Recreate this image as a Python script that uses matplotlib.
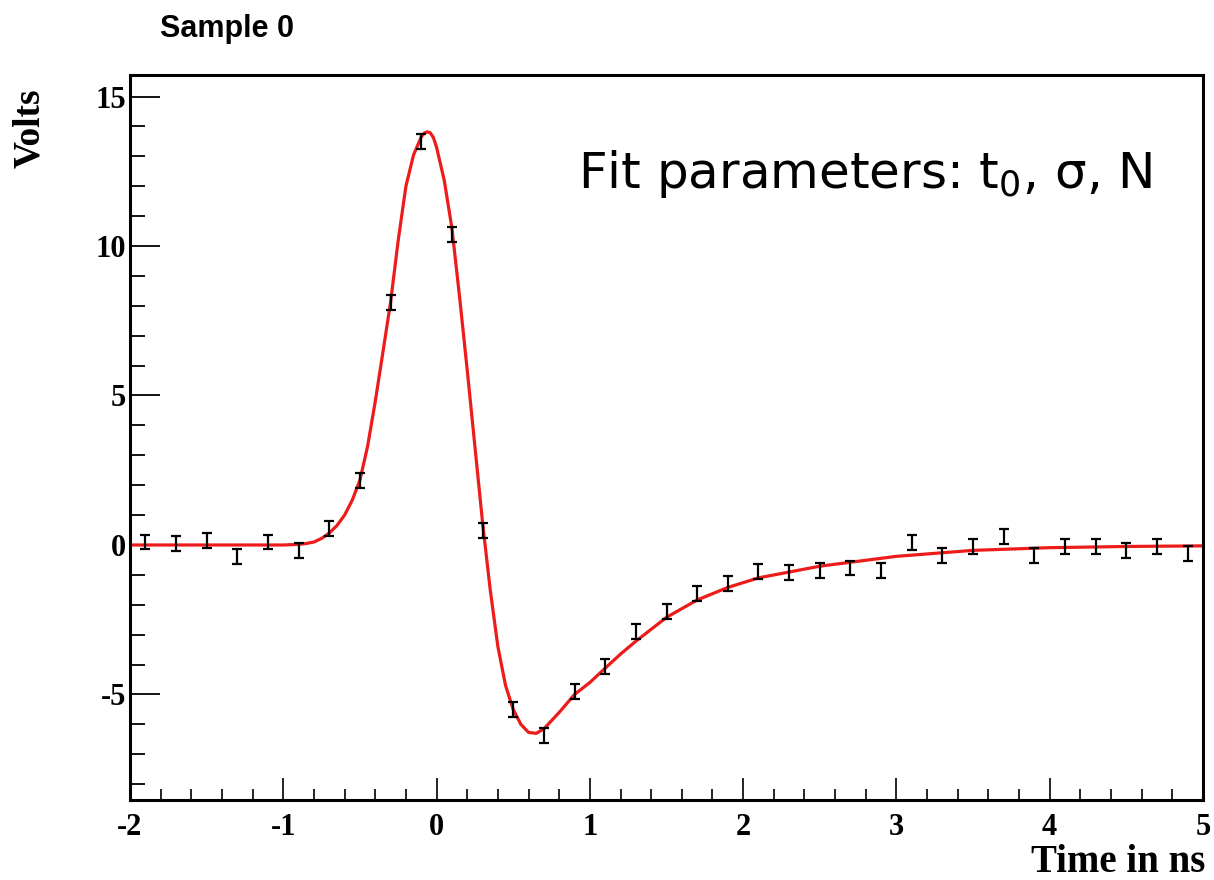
import matplotlib
matplotlib.use("Agg")
import matplotlib.pyplot as plt
from matplotlib.ticker import MultipleLocator

plt.rcParams['axes.unicode_minus'] = False
plt.rcParams['mathtext.fontset'] = 'custom'
plt.rcParams['mathtext.rm'] = 'DejaVu Sans'

# sampled pulse (time in ns, amplitude in volts)
t_data = [-1.9, -1.7, -1.5, -1.3, -1.1, -0.9, -0.7, -0.5, -0.3, -0.1,
          0.1, 0.3, 0.5, 0.7, 0.9, 1.1, 1.3, 1.5, 1.7, 1.9,
          2.1, 2.3, 2.5, 2.7, 2.9, 3.1, 3.3, 3.5, 3.7, 3.9,
          4.1, 4.3, 4.5, 4.7, 4.9]
v_data = [0.1, 0.05, 0.15, -0.37, 0.1, -0.17, 0.56, 2.15, 8.1, 13.5,
          10.4, 0.5, -5.5, -6.38, -4.9, -4.07, -2.9, -2.23, -1.62, -1.3,
          -0.88, -0.93, -0.84, -0.77, -0.84, 0.07, -0.36, -0.04, 0.28, -0.36,
          -0.06, -0.06, -0.18, -0.04, -0.27]
v_err = [0.25] * len(t_data)

# fitted pulse shape
t_fit = [-2.0, -1.5, -1.0, -0.9, -0.85, -0.8, -0.75, -0.7, -0.65, -0.6,
         -0.55, -0.5, -0.45, -0.4, -0.35, -0.3, -0.25, -0.2, -0.15, -0.1,
         -0.08, -0.06, -0.04, -0.02, 0.0, 0.05, 0.1, 0.15, 0.2, 0.25,
         0.3, 0.35, 0.4, 0.45, 0.5, 0.55, 0.6, 0.65, 0.7, 0.8,
         0.9, 1.0, 1.1, 1.2, 1.3, 1.5, 1.7, 1.9, 2.1, 2.5,
         3.0, 3.5, 4.0, 4.5, 5.0]
v_fit = [0.0, 0.0, 0.0, 0.02, 0.05, 0.1, 0.22, 0.4, 0.65, 1.0,
         1.5, 2.17, 3.3, 4.8, 6.45, 8.12, 10.2, 12.0, 13.05, 13.65,
         13.78, 13.82, 13.78, 13.62, 13.3, 12.2, 10.6, 8.3, 5.85, 3.3,
         0.75, -1.5, -3.4, -4.7, -5.5, -6.0, -6.27, -6.3, -6.15, -5.6,
         -5.0, -4.6, -4.12, -3.65, -3.22, -2.42, -1.84, -1.42, -1.1, -0.71,
         -0.38, -0.18, -0.09, -0.05, -0.03]

fig = plt.figure(figsize=(12.14, 8.8), dpi=100)
ax = fig.add_axes([130 / 1214, 80 / 880, 1073 / 1214, 725 / 880])

ax.plot(t_fit, v_fit, color='#ee1b1b', lw=2.3, zorder=2)
ax.errorbar(t_data, v_data, yerr=v_err, fmt='none', ecolor='black',
            elinewidth=1.6, capsize=3.5, capthick=1.6, zorder=3)

ax.set_xlim(-2, 5)
ax.set_ylim(-8.53, 15.72)
ax.xaxis.set_major_locator(MultipleLocator(1))
ax.xaxis.set_minor_locator(MultipleLocator(0.2))
ax.yaxis.set_major_locator(MultipleLocator(5))
ax.yaxis.set_minor_locator(MultipleLocator(1))

for s in ax.spines.values():
    s.set_linewidth(2.2)
ax.tick_params(axis='y', which='major', direction='in', length=21.5, width=1.3, pad=3)
ax.tick_params(axis='y', which='minor', direction='in', length=10.8, width=1.3)
ax.tick_params(axis='x', which='major', direction='in', length=16, width=1.2, pad=9)
ax.tick_params(axis='x', which='minor', direction='in', length=8, width=1.2)
for lab in ax.get_xticklabels() + ax.get_yticklabels():
    lab.set_fontfamily('Liberation Serif')
    lab.set_fontweight('bold')
    lab.set_fontsize(22)

fig.text(160 / 1214, 1 - 37 / 880, 'Sample 0', family='Liberation Sans',
         weight='bold', fontsize=22, ha='left', va='baseline')
fig.text(30 / 1214, 1 - 88 / 880, 'Volts', family='Liberation Serif',
         weight='bold', fontsize=27, rotation=90, ha='center', va='top')
fig.text(1205 / 1214, 1 - 872 / 880, 'Time in ns', family='Liberation Serif',
         weight='bold', fontsize=28, ha='right', va='baseline')
fig.text(578 / 1214, 1 - 188 / 880, r'Fit parameters: t$_0$, σ, N',
         family='DejaVu Sans', fontsize=36, ha='left', va='baseline')

fig.savefig('out.png', dpi=100)
